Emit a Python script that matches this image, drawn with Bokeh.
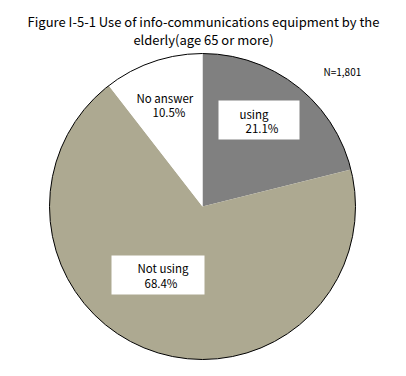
import math
from bokeh.plotting import figure
from bokeh.models import Range1d, ColumnDataSource
from bokeh.core.properties import value
from bokeh.embed import file_html
from bokeh.resources import INLINE

# ---- data ----
categories = ["using", "Not using", "No answer"]
percent = [21.1, 68.4, 10.5]
colors = ["#808080", "#ADA991", "#FFFFFF"]
title_lines = ["Figure I-5-1 Use of info-communications equipment by the",
               "elderly(age 65 or more)"]
n_note = "N=1,801"

W, H = 390, 360
FONT = "Noto Sans CJK JP"


def X(rx):
    return rx


def Y(ry):
    return H - ry


p = figure(width=W, height=H, output_backend="svg", toolbar_location=None,
           x_range=Range1d(0, W), y_range=Range1d(0, H),
           min_border=0, outline_line_color=None)
p.axis.visible = False
p.grid.visible = False
p.background_fill_color = "white"
p.border_fill_color = "white"

cx, cy, r = X(202), Y(206), 153

total = sum(percent)
starts, ends = [], []
acc = 0.0
for v in percent:
    starts.append(math.pi / 2 - acc / total * 2 * math.pi)
    acc += v
    ends.append(math.pi / 2 - acc / total * 2 * math.pi)

src = ColumnDataSource(dict(cat=categories, val=percent, color=colors,
                            start=starts, end=ends))
p.wedge(x=cx, y=cy, radius=r, start_angle="start", end_angle="end",
        direction="clock", fill_color="color", line_color=None, source=src)
p.circle(x=[cx], y=[cy], radius=r, fill_color=None, line_color="black",
         line_width=1)

# label boxes (layout)
boxes = [(218, 100, 299, 139), (111, 255, 204, 294)]
for (x0, y0, x1, y1) in boxes:
    p.quad(left=[X(x0)], right=[X(x1)], top=[Y(y0)], bottom=[Y(y1)],
           fill_color="white", line_color=None)

# label texts (layout positions in reference px)
label_pos = [((239, 113), (245, 127)),
             ((137, 267), (144, 282)),
             ((136, 97), (152, 111))]
for cat, val, (p1, p2) in zip(categories, percent, label_pos):
    p.text(x=[X(p1[0])], y=[Y(p1[1])], text=[cat], text_font=value(FONT),
           text_font_size="11.5px", text_baseline="middle", text_align="left",
           text_color="black")
    p.text(x=[X(p2[0])], y=[Y(p2[1])], text=[f"{val:.1f}%"],
           text_font=value(FONT), text_font_size="11.5px",
           text_baseline="middle", text_align="left", text_color="black")

p.text(x=[X(323)], y=[Y(71)], text=[n_note], text_font=value(FONT),
       text_font_size="10px", text_baseline="middle", text_align="left",
       text_color="black")

p.text(x=[X(203), X(203)], y=[Y(21), Y(39)], text=title_lines,
       text_font=value(FONT), text_font_size="13px", text_baseline="middle",
       text_align="center", text_color="black")

open("out.html", "w").write(file_html(p, INLINE))
